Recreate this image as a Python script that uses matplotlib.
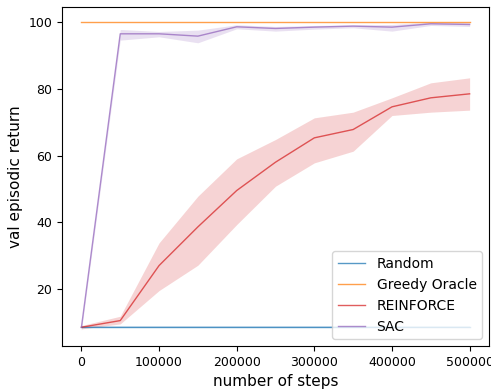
import matplotlib
matplotlib.use("Agg")
import matplotlib.pyplot as plt
import numpy as np

# evaluation checkpoints
steps = np.arange(0, 500001, 50000)

random_mean = [8.5] * 11
random_lo = [8.2] * 11
random_hi = [8.8] * 11

oracle_mean = [100.0] * 11

reinforce_mean = [8.5, 10.5, 27.0, 38.6, 49.5, 58.0, 65.3, 67.8, 74.6, 77.3, 78.5]
reinforce_lo = [8.0, 9.5, 19.5, 27.1, 39.3, 50.8, 57.8, 61.3, 72.0, 73.0, 73.6]
reinforce_hi = [9.0, 11.8, 33.8, 47.8, 59.0, 64.8, 71.3, 73.0, 77.3, 81.8, 83.3]

sac_mean = [8.5, 96.5, 96.5, 95.8, 98.6, 98.1, 98.5, 98.8, 98.5, 99.5, 99.3]
sac_lo = [7.5, 94.6, 95.6, 93.8, 98.0, 97.3, 97.9, 98.3, 97.3, 99.0, 98.7]
sac_hi = [9.5, 97.8, 97.2, 97.6, 99.2, 98.7, 99.0, 99.2, 99.3, 100.0, 99.8]

fig = plt.figure(figsize=(4.91, 3.90), dpi=100)
ax = fig.add_axes([0.1263, 0.1128, 0.8697, 0.870])

curves = [
    ("Random", random_mean, random_lo, random_hi, "tab:blue"),
    ("Greedy Oracle", oracle_mean, oracle_mean, oracle_mean, "tab:orange"),
    ("REINFORCE", reinforce_mean, reinforce_lo, reinforce_hi, "tab:red"),
    ("SAC", sac_mean, sac_lo, sac_hi, "tab:purple"),
]
for name, mean, lo, hi, color in curves:
    ax.plot(steps, mean, color=color, linewidth=1, alpha=0.75, label=name)
    ax.fill_between(steps, lo, hi, color=color, alpha=0.2, linewidth=0)

ax.set_xticks([0, 100000, 200000, 300000, 400000, 500000])
ax.tick_params(labelsize=9)
ax.set_xlabel("number of steps", fontsize=11)
ax.set_ylabel("val episodic return", fontsize=11)
ax.legend(loc="lower right", fontsize=10)

fig.savefig("out.png", dpi=100)
